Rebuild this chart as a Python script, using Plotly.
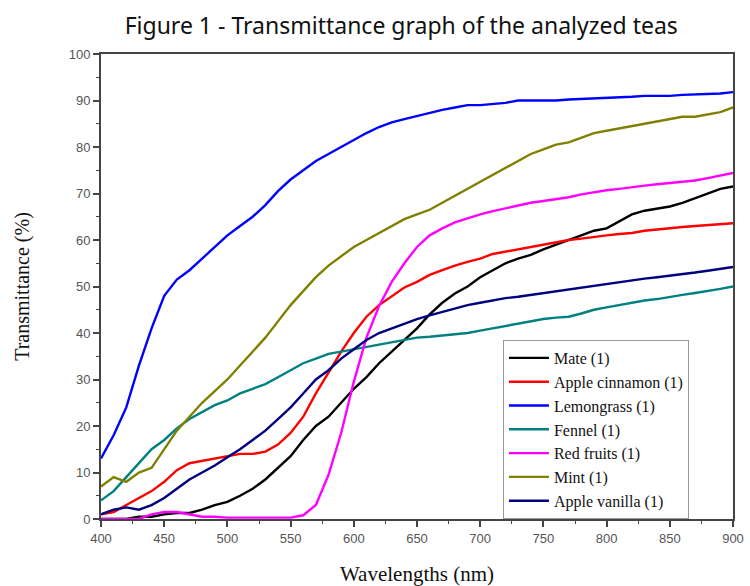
import plotly.graph_objects as go

wavelengths = list(range(400, 901, 10))

mate = [0, 0, 0, 0.5, 0.5, 1, 1.3, 1.3, 2, 3, 3.7, 5, 6.5, 8.5, 11, 13.5, 17, 20, 22, 25,
        28, 30.5, 33.5, 36, 38.5, 41, 44, 46.5, 48.5, 50, 52, 53.5, 55, 56, 56.8, 58, 59, 60,
        61, 62, 62.5, 64, 65.5, 66.3, 66.8, 67.2, 68, 69, 70, 71, 71.5]
apple_cinnamon = [1, 1.5, 3, 4.5, 6, 8, 10.5, 12, 12.5, 13, 13.5, 14, 14, 14.5, 16, 18.5, 22, 27,
                  31.5, 36, 40, 43.5, 46, 48, 49.8, 51, 52.5, 53.5, 54.5, 55.3, 56, 57, 57.5, 58,
                  58.5, 59, 59.5, 60, 60.3, 60.7, 61, 61.3, 61.5, 62, 62.3, 62.5, 62.8, 63, 63.2,
                  63.4, 63.6]
lemongrass = [13, 18, 24, 33, 41, 48, 51.5, 53.5, 56, 58.5, 61, 63, 65, 67.5, 70.5, 73, 75, 77,
              78.5, 80, 81.5, 83, 84.3, 85.3, 86, 86.7, 87.3, 88, 88.5, 89, 89, 89.3, 89.5, 90, 90,
              90, 90, 90.2, 90.3, 90.5, 90.5, 90.7, 90.8, 91, 91, 91, 91.2, 91.3, 91.5, 91.5, 91.8]
fennel = [4, 6, 9, 12, 15, 17, 19.5, 21.5, 23, 24.5, 25.5, 27, 28, 29, 30.5, 32, 33.5, 34.5, 35.5,
          36, 36.5, 37, 37.5, 38, 38.5, 39, 39.2, 39.5, 39.8, 40, 40.5, 41, 41.5, 42, 42.5, 43,
          43.3, 43.5, 44.2, 45, 45.5, 46, 46.5, 47, 47.3, 47.8, 48.2, 48.6, 49, 49.5, 50]
red_fruits = [0, 0, 0, 0, 1, 1.5, 1.5, 1, 0.5, 0.5, 0.3, 0.3, 0.3, 0.3, 0.3, 0.3, 0.8, 3, 9.5,
              18.5, 29.5, 39, 45.8, 51, 55, 58.5, 61, 62.5, 63.8, 64.7, 65.5, 66.2, 66.8, 67.5,
              68, 68.4, 68.8, 69.2, 69.8, 70.3, 70.7, 71, 71.4, 71.7, 72, 72.3, 72.5, 72.8, 73.3,
              73.8, 74.4]
mint = [7, 9, 8, 10, 11, 15, 19, 22, 25, 27.5, 30, 33, 36, 39, 42.5, 46, 49, 52, 54.5, 56.5,
        58.5, 60, 61.5, 63, 64.5, 65.5, 66.5, 68, 69.5, 71, 72.5, 74, 75.5, 77, 78.5, 79.5, 80.5,
        81, 82, 83, 83.5, 84, 84.5, 85, 85.5, 86, 86.5, 86.5, 87, 87.5, 88.5]
apple_vanilla = [1, 2, 2.5, 2, 3, 4.5, 6.5, 8.5, 10, 11.5, 13.3, 15, 17, 19, 21.5, 24, 27, 30,
                 32, 34.5, 36.5, 38.5, 40, 41, 42, 43, 43.8, 44.5, 45.3, 46, 46.5, 47, 47.5, 47.8,
                 48.2, 48.6, 49, 49.3, 49.7, 50.2, 50.6, 51, 51.4, 51.7, 52, 52.3, 52.6, 53, 53.4,
                 53.8, 54.2]

series_names = ["Mate (1)", "Apple cinnamon (1)", "Lemongrass (1)", "Fennel (1)",
                "Red fruits (1)", "Mint (1)", "Apple vanilla (1)"]
series_values = [mate, apple_cinnamon, lemongrass, fennel, red_fruits, mint, apple_vanilla]
colors = ["#000000", "#FF0000", "#0000FF", "#008080", "#FF00FF", "#808000", "#000080"]

x_ticks = list(range(400, 901, 50))
y_ticks = list(range(0, 101, 10))

fig = go.Figure()
for name, vals, col in zip(series_names, series_values, colors):
    fig.add_trace(go.Scatter(x=wavelengths, y=vals, mode="lines", name=name,
                             line=dict(color=col, width=2.4)))

axis_common = dict(showgrid=False, zeroline=False, showline=True, linecolor="#444",
                   linewidth=2, mirror=True, ticks="outside", ticklen=6, tickwidth=1.5,
                   tickcolor="#444", automargin=False,
                   tickfont=dict(family="Liberation Sans, Arial", size=13, color="#555"),
                   minor=dict(ticks="outside", ticklen=3, tickwidth=1.2, tickcolor="#444"))

fig.update_xaxes(range=[400, 900], tickvals=x_ticks, minor_dtick=25,
                 title=dict(text="Wavelengths (nm)", standoff=22,
                            font=dict(family="Liberation Serif, Times New Roman", size=21, color="#111")),
                 **axis_common)
fig.update_yaxes(range=[0, 100], tickvals=y_ticks, minor_dtick=5,
                 title=dict(text="Transmittance (%)", standoff=34,
                            font=dict(family="Liberation Serif, Times New Roman", size=20, color="#111")),
                 **axis_common)

fig.update_layout(
    width=750, height=586,
    margin=dict(l=101, r=17, t=54, b=67),
    paper_bgcolor="white", plot_bgcolor="white",
    title=dict(text="Figure 1 - Transmittance graph of the analyzed teas",
               x=0.535, xanchor="center", y=0.955, yanchor="middle",
               font=dict(family="Noto Sans, Open Sans", size=23, color="#111")),
    legend=dict(x=0.636, y=0.385, xanchor="left", yanchor="top",
                bgcolor="white", bordercolor="#999", borderwidth=1,
                font=dict(family="Liberation Serif, Times New Roman", size=16, color="#111"),
                itemwidth=40, tracegroupgap=0),
    showlegend=True,
)

fig.write_html("out.html")
